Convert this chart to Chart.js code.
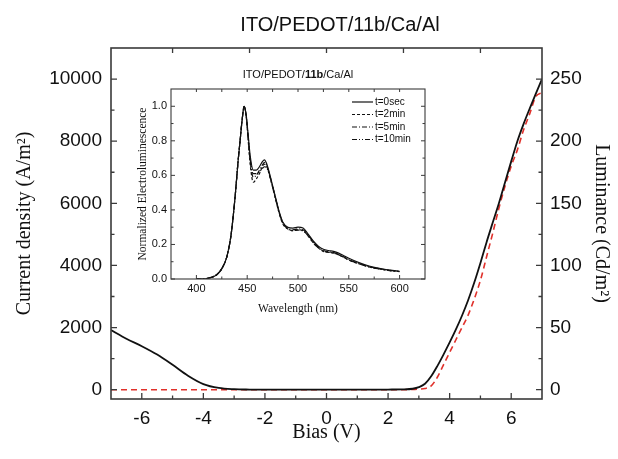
<!DOCTYPE html>
<html>
<head>
<meta charset="utf-8">
<script src="https://cdn.jsdelivr.net/npm/chart.js@4.4.0/dist/chart.umd.min.js"></script>
<style>
  html, body { margin: 0; padding: 0; background: #fff; }
  #wrap { position: relative; width: 618px; height: 459px; }
  #mainChart { position: absolute; left: 0; top: 0; }
  #insetChart { position: absolute; left: 120px; top: 62px; }
</style>
</head>
<body>
<div id="wrap">
  <canvas id="mainChart" width="618" height="459"></canvas>
  <canvas id="insetChart" width="315" height="260"></canvas>
</div>
<script>
// J-V-L curve (main plot)
const biasV = [-7, -6.5, -6, -5.5, -5, -4.5, -4, -3.5, -3, -2.5, -2, -1.5, -1, -0.5, 0, 0.5, 1, 1.5, 2, 2.5,
  2.8, 3.0, 3.2, 3.4, 3.6, 3.8, 4.0, 4.2, 4.4, 4.6, 4.8, 5.0, 5.2, 5.4, 5.6, 5.8, 6.0, 6.2, 6.4, 6.6, 6.8, 7.0];
const currentDensity = [1920, 1640, 1400, 1130, 800, 450, 180, 55, 15, 5, 2, 0, 0, 0, 0, 0, 0, 2, 5, 10,
  30, 80, 190, 430, 760, 1130, 1520, 1930, 2380, 2880, 3450, 4080, 4750, 5380, 6000, 6680, 7350, 8000, 8550, 9050, 9530, 10000];
const luminance = [0, 0, 0, 0, 0, 0, 0, 0, 0, 0, 0, 0, 0, 0, 0, 0, 0, 0, 0, 0,
  0.2, 0.5, 1, 3, 10, 20, 30, 40, 50, 60, 73, 88, 107, 126, 146, 164, 180, 193, 209, 222, 236, 239];

const biasTicks = [-6, -4, -2, 0, 2, 4, 6];
const biasMinorTicks = [-5, -3, -1, 1, 3, 5];
const biasTopTicks = [-5, -2.5, 0, 2.5, 5];
const jTicks = [0, 2000, 4000, 6000, 8000, 10000];
const jMinorTicks = [1000, 3000, 5000, 7000, 9000];
const lumTicks = [0, 50, 100, 150, 200, 250];
const lumMinorTicks = [25, 75, 125, 175, 225];

// EL spectra (inset)
const wavelengthNm = [400, 405, 410, 415, 420, 425, 430, 434, 438, 441, 443, 445, 447, 449, 451, 453, 456, 459, 462, 465,
  467, 469, 472, 475, 478, 481, 485, 490, 495, 500, 505, 510, 515, 520, 525, 530, 535, 540, 545, 550, 560, 570, 580, 590, 600];
const elT0 = [0, 0, 0.003, 0.01, 0.025, 0.06, 0.13, 0.25, 0.47, 0.68, 0.80, 0.92, 1.0, 0.95, 0.83, 0.71, 0.63, 0.63, 0.65, 0.68,
  0.69, 0.67, 0.61, 0.54, 0.47, 0.40, 0.33, 0.30, 0.295, 0.30, 0.295, 0.26, 0.22, 0.19, 0.172, 0.165, 0.16, 0.15, 0.135, 0.12, 0.095, 0.075, 0.062, 0.052, 0.045];
const elT2 = [0, 0, 0.003, 0.01, 0.025, 0.06, 0.13, 0.25, 0.47, 0.68, 0.80, 0.92, 1.0, 0.94, 0.80, 0.66, 0.56, 0.58, 0.61, 0.65,
  0.665, 0.655, 0.60, 0.53, 0.46, 0.39, 0.32, 0.29, 0.28, 0.285, 0.28, 0.25, 0.21, 0.18, 0.16, 0.155, 0.15, 0.14, 0.125, 0.11, 0.088, 0.07, 0.058, 0.05, 0.043];
const elT5 = [0, 0, 0.003, 0.01, 0.025, 0.06, 0.13, 0.25, 0.47, 0.68, 0.80, 0.92, 1.0, 0.945, 0.81, 0.68, 0.59, 0.60, 0.63, 0.66,
  0.675, 0.66, 0.605, 0.535, 0.465, 0.395, 0.325, 0.295, 0.285, 0.29, 0.285, 0.255, 0.215, 0.185, 0.165, 0.158, 0.153, 0.143, 0.128, 0.113, 0.09, 0.072, 0.06, 0.05, 0.044];
const elT10 = [0, 0, 0.003, 0.01, 0.025, 0.06, 0.13, 0.25, 0.47, 0.68, 0.80, 0.92, 1.0, 0.945, 0.82, 0.69, 0.61, 0.61, 0.62, 0.64,
  0.65, 0.645, 0.60, 0.535, 0.465, 0.395, 0.325, 0.29, 0.28, 0.283, 0.278, 0.25, 0.21, 0.18, 0.162, 0.155, 0.15, 0.14, 0.125, 0.11, 0.088, 0.07, 0.058, 0.049, 0.043];
const spectrumLabels = ["t=0sec", "t=2min", "t=5min", "t=10min"];

const wlTicks = [400, 450, 500, 550, 600];
const wlMinorTicks = [425, 475, 525, 575];
const elTicks = [0, 0.2, 0.4, 0.6, 0.8, 1.0];
const elMinorTicks = [0.1, 0.3, 0.5, 0.7, 0.9];

const SANS = "'Liberation Sans', Arial, sans-serif";
const SERIF = "'Liberation Serif', 'Times New Roman', serif";
const INK = "#111";
const FRAME = "#3a3a3a";

// inward tick marks along one edge of the plot box
function tickMarks(chart, scaleId, values, len, edge) {
  const ctx = chart.ctx, a = chart.chartArea, s = chart.scales[scaleId];
  ctx.beginPath();
  for (const v of values) {
    const p = s.getPixelForValue(v);
    if (edge === "bottom") { ctx.moveTo(p, a.bottom); ctx.lineTo(p, a.bottom - len); }
    if (edge === "top") { ctx.moveTo(p, a.top); ctx.lineTo(p, a.top + len); }
    if (edge === "left") { ctx.moveTo(a.left, p); ctx.lineTo(a.left + len, p); }
    if (edge === "right") { ctx.moveTo(a.right, p); ctx.lineTo(a.right - len, p); }
  }
  ctx.stroke();
}

function fixedTicks(values) {
  return scale => { scale.ticks = values.map(v => ({ value: v })); };
}

const noGrid = { display: false, drawTicks: false };

const mainFrame = {
  id: "mainFrame",
  afterDraw(chart) {
    const ctx = chart.ctx, a = chart.chartArea;
    ctx.save();
    ctx.strokeStyle = FRAME;
    ctx.lineWidth = 1.6;
    ctx.strokeRect(a.left, a.top, a.right - a.left, a.bottom - a.top);
    ctx.lineWidth = 1.3;
    tickMarks(chart, "x", biasTicks, 6, "bottom");
    tickMarks(chart, "x", biasMinorTicks, 3.5, "bottom");
    tickMarks(chart, "x", biasTopTicks, 5, "top");
    tickMarks(chart, "y", jTicks, 6, "left");
    tickMarks(chart, "y", jMinorTicks, 3.5, "left");
    tickMarks(chart, "y2", lumTicks, 6, "right");
    tickMarks(chart, "y2", lumMinorTicks, 3.5, "right");
    // title
    ctx.fillStyle = INK;
    ctx.font = "20px " + SANS;
    ctx.textAlign = "center";
    ctx.textBaseline = "middle";
    ctx.fillText("ITO/PEDOT/11b/Ca/Al", 340, 25);
    ctx.restore();
  }
};

new Chart(document.getElementById("mainChart"), {
  type: "line",
  data: {
    datasets: [{
      label: "Current density",
      data: biasV.map((x, i) => ({ x: x, y: currentDensity[i] })),
      yAxisID: "y",
      borderColor: INK,
      borderWidth: 1.8,
      pointRadius: 0,
      cubicInterpolationMode: "monotone"
    }, {
      label: "Luminance",
      data: biasV.map((x, i) => ({ x: x, y: luminance[i] })),
      yAxisID: "y2",
      borderColor: "#e0312b",
      borderWidth: 1.6,
      borderDash: [6, 4],
      pointRadius: 0,
      cubicInterpolationMode: "monotone"
    }]
  },
  options: {
    responsive: false,
    animation: false,
    layout: { padding: { top: 48, left: 0, right: 0, bottom: 0 } },
    plugins: { legend: { display: false }, tooltip: { enabled: false } },
    scales: {
      x: {
        type: "linear", min: -7, max: 7,
        grid: noGrid, border: { display: false },
        afterBuildTicks: fixedTicks(biasTicks),
        afterFit: s => { s.height = 60; },
        ticks: { padding: 8, color: INK, font: { family: SANS, size: 19 }, callback: v => String(v) },
        title: { display: true, text: "Bias (V)", color: INK, font: { family: SERIF, size: 20 }, padding: { top: 0, bottom: 14 } }
      },
      y: {
        type: "linear", position: "left", min: -300, max: 11000,
        grid: noGrid, border: { display: false },
        afterBuildTicks: fixedTicks(jTicks),
        afterFit: s => { s.width = 111; },
        ticks: { padding: 9, color: INK, font: { family: SANS, size: 19 }, callback: v => String(v) },
        title: { display: true, text: "Current density (A/m²)", color: INK, font: { family: SERIF, size: 20 }, padding: { top: 13, bottom: 0 } }
      },
      y2: {
        type: "linear", position: "right", min: -7.5, max: 275,
        grid: noGrid, border: { display: false },
        afterBuildTicks: fixedTicks(lumTicks),
        afterFit: s => { s.width = 76; },
        ticks: { padding: 8, color: INK, font: { family: SANS, size: 19 }, callback: v => String(v) },
        title: { display: true, text: "Luminance (Cd/m²)", color: INK, font: { family: SERIF, size: 20 }, padding: { top: 5, bottom: 0 } }
      }
    }
  },
  plugins: [mainFrame]
});

const insetFrame = {
  id: "insetFrame",
  afterDraw(chart) {
    const ctx = chart.ctx, a = chart.chartArea;
    ctx.save();
    ctx.strokeStyle = FRAME;
    ctx.lineWidth = 1.1;
    ctx.strokeRect(a.left, a.top, a.right - a.left, a.bottom - a.top);
    ctx.lineWidth = 1;
    tickMarks(chart, "x", wlTicks, 4, "bottom");
    tickMarks(chart, "x", wlMinorTicks, 2.5, "bottom");
    tickMarks(chart, "x", wlTicks, 3, "top");
    tickMarks(chart, "x", wlMinorTicks, 3, "top");
    tickMarks(chart, "y", elTicks, 4, "left");
    tickMarks(chart, "y", elMinorTicks, 2.5, "left");
    tickMarks(chart, "y", elTicks, 4, "right");
    tickMarks(chart, "y", elMinorTicks, 2.5, "right");

    // title with bold compound number
    const parts = [["ITO/PEDOT/", ""], ["11b", "bold "], ["/Ca/Al", ""]];
    let total = 0;
    for (const p of parts) { ctx.font = p[1] + "11px " + SANS; total += ctx.measureText(p[0]).width; }
    let tx = (a.left + a.right) / 2 - total / 2;
    ctx.fillStyle = INK;
    ctx.textBaseline = "middle";
    ctx.textAlign = "left";
    for (const p of parts) {
      ctx.font = p[1] + "11px " + SANS;
      ctx.fillText(p[0], tx, 13);
      tx += ctx.measureText(p[0]).width;
    }

    // legend, top right inside the box
    ctx.font = "10px " + SANS;
    chart.data.datasets.forEach((ds, i) => {
      const ly = 40 + i * 12.5;
      ctx.strokeStyle = ds.borderColor;
      ctx.lineWidth = 1.2;
      ctx.setLineDash(ds.borderDash || []);
      ctx.beginPath();
      ctx.moveTo(232, ly);
      ctx.lineTo(253, ly);
      ctx.stroke();
      ctx.setLineDash([]);
      ctx.fillText(ds.label, 255, ly);
    });
    ctx.restore();
  }
};

const spectra = [elT0, elT2, elT5, elT10];
const spectrumDash = [[], [3, 2], [5, 2, 1, 2], [5, 2, 1, 2, 1, 2]];

new Chart(document.getElementById("insetChart"), {
  type: "line",
  data: {
    datasets: spectra.map((vals, k) => ({
      label: spectrumLabels[k],
      data: wavelengthNm.map((x, i) => ({ x: x, y: vals[i] })),
      borderColor: INK,
      borderWidth: 1.2,
      borderDash: spectrumDash[k],
      pointRadius: 0,
      cubicInterpolationMode: "monotone"
    }))
  },
  options: {
    responsive: false,
    animation: false,
    layout: { padding: { top: 27, left: 0, right: 10, bottom: 0 } },
    plugins: { legend: { display: false }, tooltip: { enabled: false } },
    scales: {
      x: {
        type: "linear", min: 375, max: 625,
        grid: noGrid, border: { display: false },
        afterBuildTicks: fixedTicks(wlTicks),
        afterFit: s => { s.height = 43; },
        ticks: { padding: 3, color: INK, font: { family: SANS, size: 11 }, callback: v => String(v) },
        title: { display: true, text: "Wavelength (nm)", color: INK, font: { family: SERIF, size: 11.5 }, padding: { top: 0, bottom: 6 } }
      },
      y: {
        type: "linear", min: 0, max: 1.1,
        grid: noGrid, border: { display: false },
        afterBuildTicks: fixedTicks(elTicks),
        afterFit: s => { s.width = 51; },
        ticks: { padding: 4, color: INK, font: { family: SANS, size: 11 }, callback: v => v.toFixed(1) },
        title: { display: true, text: "Normalized Electroluminescence", color: INK, font: { family: SERIF, size: 11.5 }, padding: { top: 16, bottom: 0 } }
      }
    }
  },
  plugins: [insetFrame]
});
</script>
</body>
</html>
